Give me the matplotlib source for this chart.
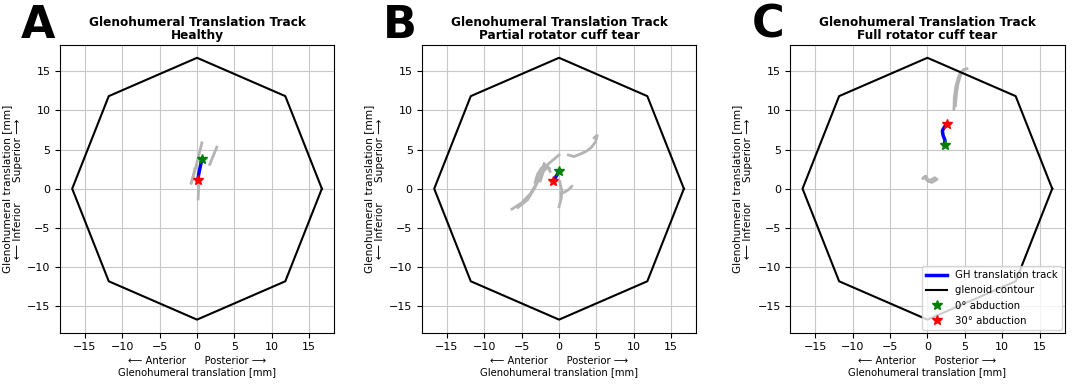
import numpy as np
import matplotlib.pyplot as plt

# glenoid contour (regular octagon, radius in mm)
R = 16.7
ang = np.deg2rad(np.arange(0, 361, 45))
contour_x = R * np.cos(ang)
contour_y = R * np.sin(ang)

titles = ['Healthy', 'Partial rotator cuff tear', 'Full rotator cuff tear']
letters = ['A', 'B', 'C']

# GH translation track (start = 0 deg, end = 30 deg abduction)
track_x = [[0.65, 0.45, 0.25, 0.1],
           [0.0, -0.25, -0.5, -0.75],
           [2.3, 2.35, 2.1, 2.0, 2.3, 2.6]]
track_y = [[3.75, 2.9, 2.0, 1.1],
           [2.25, 1.8, 1.4, 1.0],
           [5.6, 6.2, 6.8, 7.4, 7.9, 8.2]]

# other trials (gray)
gray_A = [
    ([0.65, 0.3, -0.1, -0.5, -0.8], [5.85, 4.5, 3.0, 1.6, 0.7]),
    ([2.65, 2.3, 2.0, 1.7], [5.3, 4.5, 3.8, 3.1]),
    ([0.2, 0.2, 0.15], [1.0, -0.2, -1.3]),
    ([-0.3, -0.5, -0.7], [2.5, 1.6, 0.9]),
]
gray_B = [
    ([-6.3, -5.0, -3.8, -2.8, -1.85, -0.9, 0.0], [-2.6, -1.8, -0.6, 1.0, 2.8, 3.6, 4.3]),
    ([-5.5, -4.2, -3.2, -2.5, -2.0], [-2.4, -1.4, 0.2, 1.8, 3.2]),
    ([-3.2, -2.9, -2.4, -1.8, -1.3], [0.8, 1.8, 2.6, 3.0, 2.6]),
    ([-2.5, -2.1, -1.5, -1.2], [1.0, 2.2, 2.8, 2.2]),
    ([1.25, 2.0, 2.8, 3.7, 4.35, 4.9, 5.1, 4.7], [4.3, 4.1, 4.4, 4.8, 5.3, 6.0, 6.8, 6.5]),
    ([0.1, 0.35, 0.3, 0.0], [0.9, -0.2, -1.2, -2.3]),
    ([0.3, 0.8, 1.3, 1.7], [-0.6, -0.4, -0.1, 0.3]),
]
gray_C = [
    ([3.55, 3.6, 3.8, 4.1, 4.4, 4.9, 5.3], [10.1, 11.6, 13.0, 14.1, 14.8, 15.2, 15.3]),
    ([3.75, 3.9, 4.1, 4.4, 4.8], [10.6, 12.2, 13.4, 14.4, 15.1]),
    ([-0.4, 0.0, 0.6, 1.3, 1.0, 0.2, -0.2, -0.6], [1.5, 1.0, 0.8, 1.2, 1.4, 1.0, 1.6, 1.3]),
]
gray_all = [gray_A, gray_B, gray_C]

fig = plt.figure(figsize=(10.72, 3.85), dpi=100)
lefts = [0.0557, 0.3934, 0.737]
lim = 1.1 * R

for i in range(3):
    ax = fig.add_axes([lefts[i], 0.1358, 0.2562, 0.7481])
    for gx, gy in gray_all[i]:
        ax.plot(gx, gy, color='#b4b4b4', lw=2)
    ax.plot(track_x[i], track_y[i], color='blue', lw=2.5, label='GH translation track', zorder=3)
    ax.plot(contour_x, contour_y, color='black', lw=1.5, label='glenoid contour')
    ax.plot(track_x[i][0], track_y[i][0], '*', color='green', ms=7, label='0° abduction', zorder=4)
    ax.plot(track_x[i][-1], track_y[i][-1], '*', color='red', ms=7, label='30° abduction', zorder=4)
    ax.set_xlim(-lim, lim)
    ax.set_ylim(-lim, lim)
    ax.set_xticks([-15, -10, -5, 0, 5, 10, 15])
    ax.set_yticks([-15, -10, -5, 0, 5, 10, 15])
    ax.tick_params(labelsize=8, pad=3)
    ax.grid(True, color='#c8c8c8', lw=0.8)
    ax.set_axisbelow(True)
    ax.set_title('Glenohumeral Translation Track\n' + titles[i], fontsize=8.7,
                 fontweight='bold', linespacing=1.0, pad=4)
    ax.set_xlabel('⟵ Anterior      Posterior ⟶\nGlenohumeral translation [mm]',
                  fontsize=7.2, linespacing=1.15, labelpad=3)
    ax.set_ylabel('Glenohumeral translation [mm]\n⟵ Inferior      Superior ⟶',
                  fontsize=7.6, linespacing=1.15, labelpad=3)
    fig.text(lefts[i] - 0.036, 0.99, letters[i], fontsize=32, fontweight='bold',
             va='top', ha='left')
    if i == 2:
        ax.legend(loc='lower right', fontsize=7.3, borderaxespad=0.3, handlelength=2)

fig.savefig('out.png', dpi=100)
